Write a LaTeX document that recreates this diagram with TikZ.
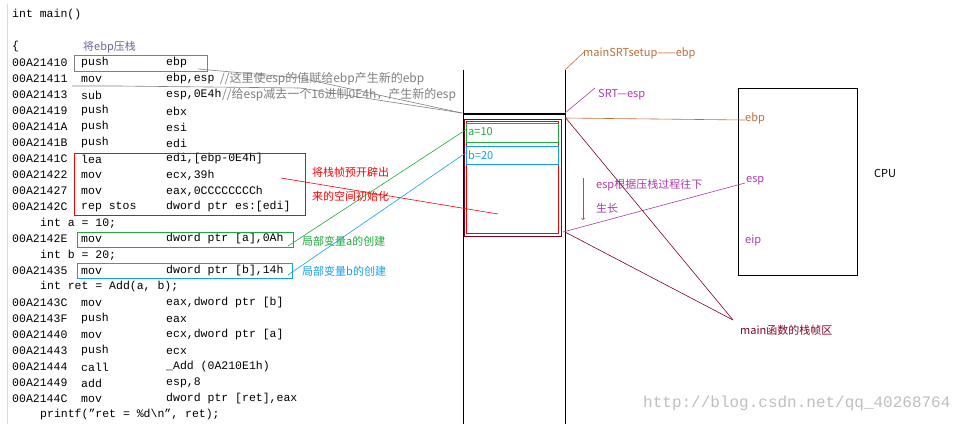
\documentclass[tikz,border=0pt]{standalone}
\usepackage{fontspec}
\setmainfont{Liberation Mono}
\newfontfamily\cjk{Noto Sans CJK SC}
\begin{document}
\begin{tikzpicture}[x=1pt,y=-1pt,
  code/.style={anchor=west,inner sep=0pt,font=\fontsize{11.5}{12}\selectfont},
  lab/.style={anchor=west,inner sep=0pt,font=\cjk\fontsize{11}{12}\selectfont},
  thin/.style={line width=0.6pt}]
\useasboundingbox (0,0) rectangle (973,424);
\fill[white] (0,0) rectangle (973,424);
\draw[black!15,line width=1pt] (7,4) -- (7,424);
\definecolor{gr}{RGB}{30,170,60}
\definecolor{bl}{RGB}{20,160,230}
\definecolor{br}{RGB}{190,110,60}
\definecolor{pu}{RGB}{170,60,170}
\definecolor{dr}{RGB}{128,0,32}
\node[code] (m) at (12,15) {int main()};
\node[code] (br0) at (12,47) {\{};
\foreach \y/\a/\b/\c in {63/00A21410/push/ebp,79/00A21411/mov/{ebp,esp},95/00A21413/sub/{esp,0E4h},111/00A21419/push/ebx,127/00A2141A/push/esi,143/00A2141B/push/edi,159/00A2141C/lea/{edi,[ebp-0E4h]},175/00A21422/mov/{ecx,39h},191/00A21427/mov/{eax,0CCCCCCCCh},207/00A2142C/rep stos/{dword ptr es:[edi]},239/00A2142E/mov/{dword ptr [a],0Ah},271/00A21435/mov/{dword ptr [b],14h},303/00A2143C/mov/{eax,dword ptr [b]},319/00A2143F/push/eax,335/00A21440/mov/{ecx,dword ptr [a]},351/00A21443/push/ecx,367/00A21444/call/{\_Add (0A210E1h)},383/00A21449/add/{esp,8},399/00A2144C/mov/{dword ptr [ret],eax}}{
  \node[code] at (12,\y) {\a};
  \node[code] at (81,\y) {\b};
  \node[code] at (166,\y) {\c};
}
\node[code] (ia) at (40,223) {int a = 10;};
\node[code] (ib) at (40,255) {int b = 20;};
\node[code] (ir) at (40,287) {int ret = Add(a, b);};
\node[code] (pf) at (40,415) {printf("ret = \%d\textbackslash n", ret);};
\node[lab,text=gray,font=\cjk\fontsize{12}{12}\selectfont] (c1) at (220,79) {//这里使esp的值赋给ebp产生新的ebp};
\node[lab,text=gray,font=\cjk\fontsize{12}{12}\selectfont] (c2) at (222,95) {//给esp减去一个16进制0E4h，产生新的esp};
% boxes on code
\draw[gray,thin] (74,55) rectangle (207,71);
\node[lab,text=gray!80!blue] (l0) at (83,47) {将ebp压栈};
\draw[red,thin] (74,153) rectangle (305,215);
\node[lab,text=red] (lr1) at (312,172) {将栈帧预开辟出};
\node[lab,text=red] (lr2) at (312,196) {来的空间初始化};
\draw[gr,thin] (77,232) rectangle (293,247);
\node[lab,text=gr] (la) at (302,241) {局部变量a的创建};
\draw[bl,thin] (77,263) rectangle (292,278);
\node[lab,text=bl] (lb) at (302,271) {局部变量b的创建};
% stack
\draw[line width=1pt] (463,70) -- (463,424) (565,70) -- (565,424);
\draw[line width=1.8pt] (463,114) -- (565,114);
\draw[dr,thin] (464,119) rectangle (561,236);
\draw[red,line width=0.8pt] (466,121) rectangle (558,233);
\draw[gr,thin] (466,123) rectangle (558,142);
\node[lab,text=gr] (a10) at (468,132) {a=10};
\draw[bl,thin] (466,146) rectangle (558,164);
\node[lab,text=bl] (b20) at (468,155) {b=20};
% connectors from code
\draw[gray,thin] (198,69) -- (300,78) -- (462,113);
\draw[gray,thin] (72,86) -- (118,86) -- (300,88) -- (462,113);
\draw[red,thin] (281,178) -- (498,214);
\draw[gr,thin] (288,246) -- (467,129);
\draw[bl,thin] (288,275) -- (467,152);
% labels right of stack
\node[lab,text=br] (setup) at (583,53) {mainSRTsetup——ebp};
\draw[br,thin] (565,70) -- (584,52);
\node[lab,text=pu] (srt) at (598,95) {SRT—esp};
\draw[pu,thin] (565,113) -- (595,88);
% CPU
\draw[line width=0.8pt] (738,88) rectangle (857,275);
\node[lab,text=br] (ebp) at (745,118) {ebp};
\node[lab,text=pu] (esp) at (746,181) {esp};
\node[lab,text=pu] (eip) at (745,240) {eip};
\node[lab] (cpu) at (874,173) {CPU};
\draw[br,thin] (565,118) -- (745,120);
\draw[pu,thin] (745,183) -- (563,232);
\draw[pu,thin,->] (583,178) -- (583,220);
\node[lab,text=pu] (g1) at (596,185) {esp根据压栈过程往下};
\node[lab,text=pu] (g2) at (596,208) {生长};
\draw[dr,thin] (565,117) -- (733,320);
\draw[dr,thin] (565,232) -- (733,320);
\node[lab,text=dr] (fr) at (740,330) {main函数的栈帧区};
\node[code,text=black!25,font=\fontsize{16}{16}\selectfont] (wm) at (643,403) {http://blog.csdn.net/qq\_40268764};
\end{tikzpicture}
\end{document}
